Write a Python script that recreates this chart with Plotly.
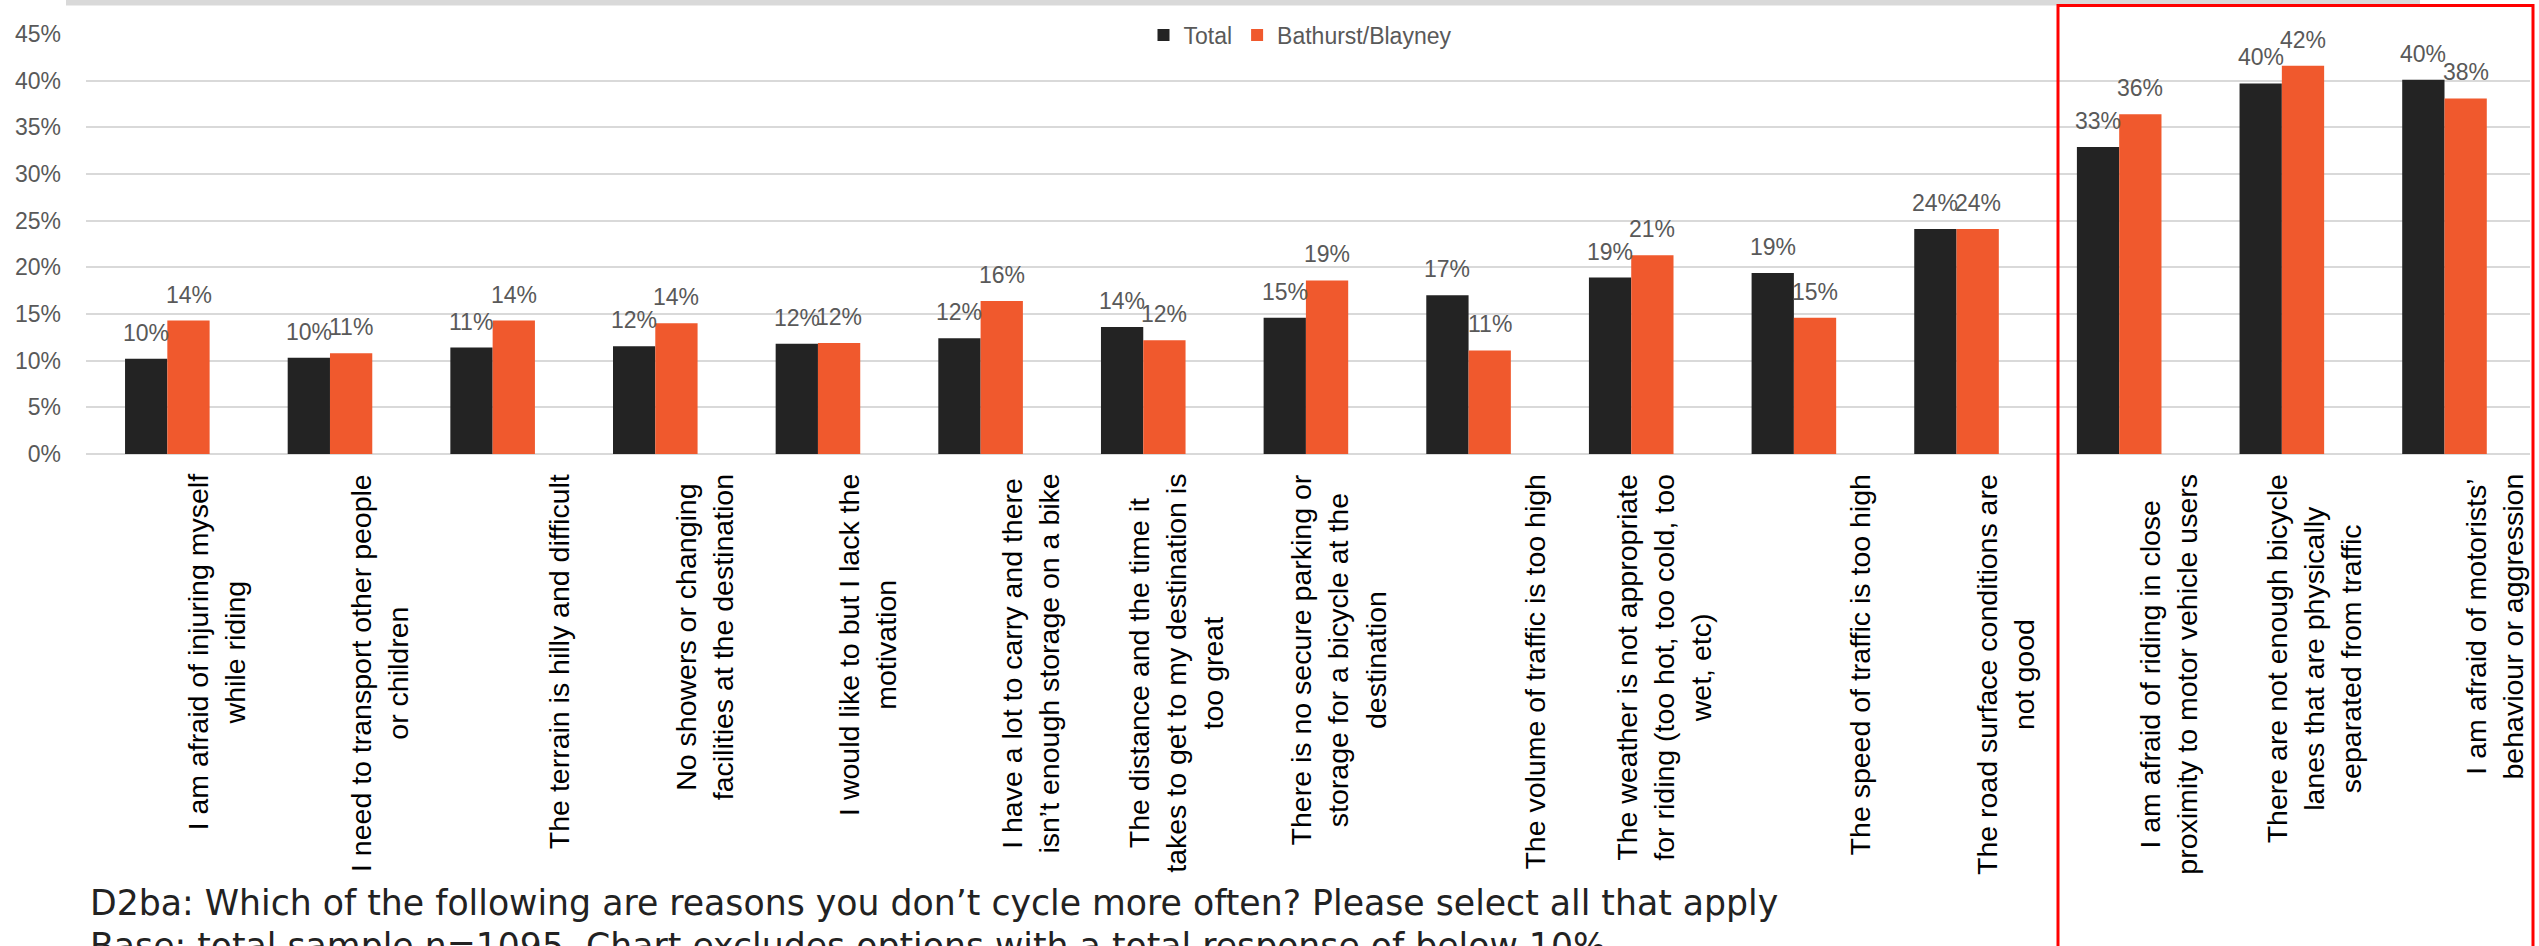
import plotly.graph_objects as go

# Reasons for not cycling more often (share of respondents, %)
categories = [
    "I am afraid of injuring myself<br>while riding",
    "I need to transport other people<br>or children",
    "The terrain is hilly and difficult",
    "No showers or changing<br>facilities at the destination",
    "I would like to but I lack the<br>motivation",
    "I have a lot to carry and there<br>isn’t enough storage on a bike",
    "The distance and the time it<br>takes to get to my destination is<br>too great",
    "There is no secure parking or<br>storage for a bicycle at the<br>destination",
    "The volume of traffic is too high",
    "The weather is not appropriate<br>for riding (too hot, too cold, too<br>wet, etc)",
    "The speed of traffic is too high",
    "The road surface conditions are<br>not good",
    "I am afraid of riding in close<br>proximity to motor vehicle users",
    "There are not enough bicycle<br>lanes that are physically<br>separated from traffic",
    "I am afraid of motorists’<br>behaviour or aggression",
]
total = [10.2, 10.3, 11.4, 11.55, 11.8, 12.4, 13.6, 14.6, 17.0, 18.9, 19.4, 24.1, 32.9, 39.7, 40.1]
bathurst = [14.3, 10.8, 14.3, 14.0, 11.9, 16.4, 12.2, 18.6, 11.1, 21.3, 14.6, 24.1, 36.4, 41.6, 38.1]
series_names = ["Total", "Bathurst/Blayney"]
y_ticks = [0, 5, 10, 15, 20, 25, 30, 35, 40, 45]
y_tick_text = [f"{v}%" for v in y_ticks]

footnote_1 = "D2ba: Which of the following are reasons you don’t cycle more often? Please select all that apply"
footnote_2 = "Base: total sample n=1095. Chart excludes options with a total response of below 10%"

# Page geometry
W, H = 2539, 946
M_L, M_R, M_T, M_B = 86, 9, 34, 492
PLOT_W = W - M_L - M_R
PLOT_H = H - M_T - M_B
BARGAP = 0.48

C_TOTAL = "#232323"
C_LOCAL = "#F0592D"
GREY_TXT = "#595959"
FONT = "Liberation Sans, Arial, sans-serif"


def px_x(px):
    return (px - M_L) / PLOT_W


def px_y(py):
    return (H - M_B - py) / PLOT_H


fig = go.Figure()
fig.add_trace(go.Bar(x=categories, y=total, name=series_names[0],
                     marker=dict(color=C_TOTAL, line=dict(width=0))))
fig.add_trace(go.Bar(x=categories, y=bathurst, name=series_names[1],
                     marker=dict(color=C_LOCAL, line=dict(width=0))))

annotations = []

# Value labels above each bar
slot = PLOT_W / len(categories)
bar_off = slot * (1 - BARGAP) / 4
for cat, vt, vb in zip(categories, total, bathurst):
    for v, sh in ((vt, -bar_off), (vb, bar_off)):
        annotations.append(dict(
            x=cat, y=v, xref="x", yref="y", xshift=sh, yshift=11,
            text=f"{v:.0f}%", showarrow=False, xanchor="center", yanchor="bottom",
            font=dict(family=FONT, size=23, color=GREY_TXT),
        ))

# Rotated category labels below the axis (last line sits right of the group centre)
for cat in categories:
    n = cat.count("<br>") + 1
    annotations.append(dict(
        x=cat, y=0, xref="x", yref="y", xshift=66 - 17 * (n - 1), yshift=-18,
        text=cat, showarrow=False, textangle=-90, align="center",
        xanchor="center", yanchor="top",
        font=dict(family=FONT, size=28.5, color="#000000"),
    ))

# Question wording and base note
for txt, py in ((footnote_1, 903), (footnote_2, 946)):
    annotations.append(dict(
        x=px_x(88), y=px_y(py), xref="paper", yref="paper", text=txt,
        showarrow=False, xanchor="left", yanchor="middle",
        font=dict(family="DejaVu Sans, sans-serif", size=34.7, color="#222222"),
    ))

shapes = [
    # grey strip along the top edge
    dict(type="rect", xref="paper", yref="paper", layer="above",
         x0=px_x(66), x1=px_x(2420), y0=px_y(5.5), y1=px_y(-2),
         fillcolor="#D9D9D9", line=dict(width=0)),
    # highlight box around the top three reasons
    dict(type="rect", xref="paper", yref="paper", layer="above",
         x0=px_x(2058), x1=px_x(2533), y0=px_y(960), y1=px_y(5.5),
         fillcolor="rgba(0,0,0,0)", line=dict(color="#FF0000", width=3)),
]

fig.update_layout(
    width=W, height=H,
    margin=dict(l=M_L, r=M_R, t=M_T, b=M_B, pad=0),
    paper_bgcolor="white", plot_bgcolor="white",
    barmode="group", bargap=BARGAP, bargroupgap=0,
    font=dict(family=FONT, color=GREY_TXT),
    showlegend=True,
    legend=dict(orientation="h", x=px_x(1300), xanchor="center",
                y=px_y(35), yanchor="middle", bgcolor="rgba(0,0,0,0)",
                font=dict(family=FONT, size=23, color=GREY_TXT),
                itemclick=False, traceorder="normal"),
    annotations=annotations,
    shapes=shapes,
)
fig.update_xaxes(showticklabels=False, showgrid=False, showline=False,
                 zeroline=False, ticks="", fixedrange=True)
fig.update_yaxes(range=[0, 45], tickmode="array", tickvals=y_ticks, ticktext=y_tick_text,
                 showgrid=True, gridcolor="#D9D9D9", gridwidth=2,
                 zeroline=True, zerolinecolor="#D9D9D9", zerolinewidth=2,
                 showline=False, ticks="", ticklabelstandoff=24,
                 tickfont=dict(family=FONT, size=23, color=GREY_TXT),
                 fixedrange=True)

fig.write_html("out.html")
